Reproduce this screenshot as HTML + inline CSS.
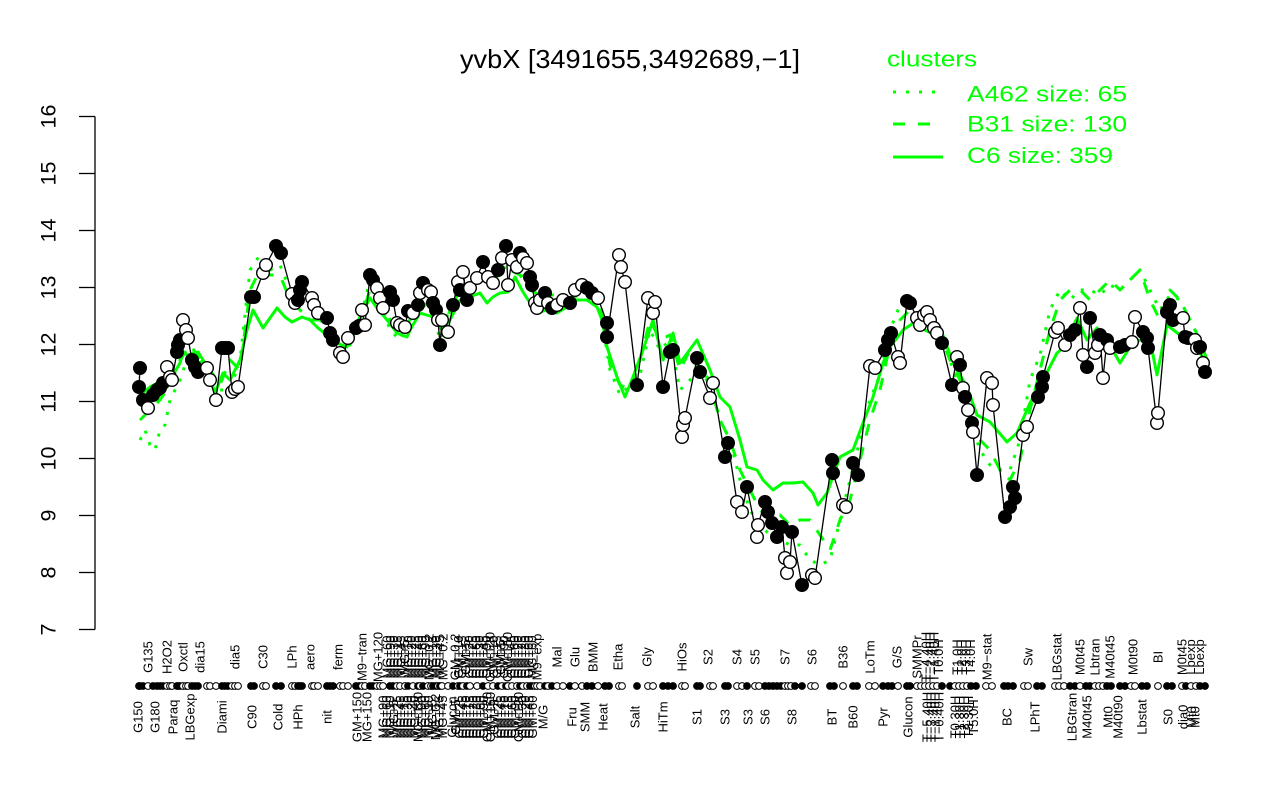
<!DOCTYPE html>
<html><head><meta charset="utf-8"><style>
html,body{margin:0;padding:0;background:#fff}
svg{display:block}
.f{fill:#000}.o{fill:#fff}
</style></head><body>
<svg width="1280" height="800" viewBox="0 0 1280 800" xmlns="http://www.w3.org/2000/svg" font-family="'Liberation Sans', Arial, sans-serif">
<rect width="1280" height="800" fill="#fff"/>
<text x="460" y="68" font-size="26" textLength="340" lengthAdjust="spacingAndGlyphs">yvbX [3491655,3492689,−1]</text>
<g fill="#00ff00" font-size="22">
<text x="887" y="66.5" textLength="90" lengthAdjust="spacingAndGlyphs">clusters</text>
<text x="967" y="101.5" textLength="160" lengthAdjust="spacingAndGlyphs">A462 size: 65</text>
<text x="967" y="131.5" textLength="160" lengthAdjust="spacingAndGlyphs">B31 size: 130</text>
<text x="967" y="163" textLength="146" lengthAdjust="spacingAndGlyphs">C6 size: 359</text>
</g>
<g stroke="#00ff00" stroke-width="3" fill="none">
<line x1="893" y1="92" x2="943" y2="92" stroke-dasharray="3,10"/>
<line x1="893" y1="124" x2="943" y2="124" stroke-dasharray="12,13"/>
<line x1="893" y1="157" x2="943" y2="157"/>
</g>
<g stroke="#000" stroke-width="1.3">
<line x1="95" y1="116.5" x2="95" y2="629.5"/>
<line x1="79" y1="116.5" x2="95" y2="116.5"/>
<line x1="79" y1="173.5" x2="95" y2="173.5"/>
<line x1="79" y1="230.5" x2="95" y2="230.5"/>
<line x1="79" y1="287.5" x2="95" y2="287.5"/>
<line x1="79" y1="344.5" x2="95" y2="344.5"/>
<line x1="79" y1="401.5" x2="95" y2="401.5"/>
<line x1="79" y1="458.5" x2="95" y2="458.5"/>
<line x1="79" y1="515.5" x2="95" y2="515.5"/>
<line x1="79" y1="572.5" x2="95" y2="572.5"/>
<line x1="79" y1="629.5" x2="95" y2="629.5"/>
</g>
<g font-size="21.5" text-anchor="middle" fill="#000">
<text transform="translate(55.5,116.5) rotate(-90)">16</text>
<text transform="translate(55.5,173.5) rotate(-90)">15</text>
<text transform="translate(55.5,230.5) rotate(-90)">14</text>
<text transform="translate(55.5,287.5) rotate(-90)">13</text>
<text transform="translate(55.5,344.5) rotate(-90)">12</text>
<text transform="translate(55.5,401.5) rotate(-90)">11</text>
<text transform="translate(55.5,458.5) rotate(-90)">10</text>
<text transform="translate(55.5,515.5) rotate(-90)">9</text>
<text transform="translate(55.5,572.5) rotate(-90)">8</text>
<text transform="translate(55.5,629.5) rotate(-90)">7</text>
</g>
<g fill="none" stroke="#00ff00" stroke-width="3" stroke-linejoin="round">
<polyline stroke-dasharray="3,9" points="140,440 145,430 150,445 155,450 160,430 165,425 170,400 180,380 190,350 200,360 210,380 220,390 230,390 240,360 250,270 260,255 270,270 280,265 290,290 300,310 310,320 320,320 330,330 340,340 350,345 360,320 370,280 380,300 390,330 400,340 410,320 420,300 430,300 440,340 450,310 460,280 470,285 480,280 490,275 500,270 510,265 520,270 530,285 540,290 550,295 560,295 570,300 580,285 590,290 600,300 605,340 610,370 620,395 640,375 650,330 660,350 670,340 680,390 690,380 700,370 710,380 720,420 730,440 740,480 750,510 760,525 770,535 780,540 790,545 800,545 810,560 820,565 830,560 840,520 850,480 860,440 870,400 880,375 890,330 900,305 910,300 920,310 930,320 940,330 950,360 960,390 970,420 980,450 990,465 1000,470 1010,470 1020,440 1030,380 1040,355 1050,310 1060,290 1070,300 1080,290 1090,290 1100,295 1110,285 1120,290 1130,280 1140,270 1150,290 1160,310 1170,295 1180,300 1190,320 1200,340 1207,360"/>
<polyline stroke-dasharray="12,12" points="140,420 150,410 160,400 170,385 180,360 190,345 200,358 210,370 220,385 230,360 240,370 250,290 260,270 270,275 280,275 290,300 300,310 310,320 320,320 330,330 340,340 350,345 360,320 370,290 380,300 390,320 400,330 410,320 420,310 430,300 440,330 450,310 460,290 470,285 480,280 490,280 500,275 510,270 520,275 530,290 540,295 550,300 560,300 570,305 580,290 590,295 600,300 605,330 610,365 620,385 630,390 640,360 650,320 660,340 670,335 680,370 690,350 700,370 710,385 720,420 730,440 740,470 750,490 760,510 770,520 780,515 790,525 800,520 810,520 820,535 830,550 840,520 850,500 860,460 870,420 880,390 890,345 900,320 910,310 920,315 930,330 940,335 950,360 960,380 970,420 980,440 990,450 1000,470 1010,480 1020,460 1030,410 1040,370 1050,330 1060,300 1070,290 1080,290 1090,300 1100,290 1110,280 1120,290 1130,280 1140,270 1150,300 1160,320 1170,290 1180,300 1190,320 1200,340 1207,360"/>
<polyline points="138,397 150,387 163,380 173,375 180,363 183,353 188,355 198,352 205,363 215,393 223,373 230,380 240,360 247,330 253,310 263,328 277,308 285,317 292,322 302,317 310,320 317,327 330,338 337,343 347,347 353,330 360,317 370,298 377,308 387,320 397,333 407,337 410,330 420,313 433,317 442,330 450,320 460,300 470,297 480,293 487,303 493,297 500,293 508,292 515,277 523,292 530,303 537,313 547,310 557,313 567,307 577,300 587,300 597,307 602,320 607,347 617,377 625,397 633,377 643,350 653,320 663,360 673,333 680,363 697,340 710,370 720,397 730,407 740,440 747,467 757,470 763,480 773,490 783,483 793,483 803,482 813,493 818,505 827,493 840,457 853,450 863,423 873,397 883,363 890,347 903,330 915,322 925,330 935,335 940,327 947,347 957,370 967,387 977,415 990,422 1007,442 1017,433 1030,403 1043,380 1057,353 1063,348 1077,318 1087,340 1097,328 1107,340 1120,363 1130,347 1140,340 1150,340 1157,375 1167,325 1180,335 1193,343 1207,363"/>
</g>
<polyline fill="none" stroke="#000" stroke-width="1.3" points="140,368 139,387 143,400 148,408 153,395 157,390 160,388 163,383 167,367 170,377 172,380 177,352 178,345 180,340 183,320 186,330 188,338 192,360 195,367 198,372 207,368 210,380 216,400 222,348 225,348 228,348 232,392 235,389 238,387 251,297 254,297 263,273 266,265 276,246 281,253 292,294 295,303 298,300 300,290 302,282 312,298 314,305 318,313 327,318 330,333 333,340 340,353 343,357 348,338 356,328 359,326 362,310 365,325 370,275 373,280 377,288 380,298 383,308 390,292 393,300 397,323 400,325 405,327 408,311 413,313 418,305 420,293 423,283 428,290 431,292 433,303 436,310 438,320 440,345 442,320 448,332 453,305 458,282 460,290 463,272 467,300 470,288 477,278 483,262 488,277 493,283 498,270 502,258 506,246 508,285 512,260 517,267 520,253 523,258 527,263 530,277 532,285 535,303 537,308 540,300 545,293 548,303 552,308 557,305 563,300 570,303 575,290 582,285 587,288 592,293 598,298 607,323 607,337 619,255 621,267 625,282 637,385 648,298 653,313 655,302 663,387 670,352 673,350 682,437 683,425 685,418 697,358 700,372 710,398 713,383 725,457 728,443 737,502 742,512 747,487 757,537 758,525 765,502 768,512 772,523 777,537 782,527 785,558 787,573 790,562 792,532 802,585 812,575 815,578 832,460 833,473 843,505 846,507 853,463 858,475 870,366 875,368 885,350 888,340 891,333 898,357 900,363 907,301 910,303 917,318 920,325 924,315 927,312 930,320 934,328 937,333 942,343 952,385 957,357 960,365 963,388 965,397 968,410 972,423 973,432 977,475 987,378 992,383 993,405 1005,517 1010,507 1013,487 1015,498 1023,435 1027,427 1038,397 1042,387 1043,377 1055,332 1058,328 1065,345 1070,335 1075,330 1080,308 1083,355 1087,367 1090,318 1095,353 1098,345 1100,335 1103,378 1107,340 1110,348 1120,347 1125,345 1132,342 1135,317 1143,332 1147,338 1148,348 1157,423 1158,413 1167,312 1170,305 1173,320 1183,318 1185,337 1188,338 1195,340 1197,348 1200,347 1203,363 1205,372"/>
<g stroke="#000" stroke-width="1.4">
<circle class="f" cx="140" cy="368" r="6.3"/><circle class="f" cx="139" cy="387" r="6.3"/><circle class="f" cx="143" cy="400" r="6.3"/><circle class="o" cx="148" cy="408" r="6.3"/><circle class="f" cx="153" cy="395" r="6.3"/><circle class="f" cx="157" cy="390" r="6.3"/><circle class="f" cx="160" cy="388" r="6.3"/><circle class="f" cx="163" cy="383" r="6.3"/><circle class="o" cx="167" cy="367" r="6.3"/><circle class="o" cx="170" cy="377" r="6.3"/><circle class="o" cx="172" cy="380" r="6.3"/><circle class="f" cx="177" cy="352" r="6.3"/><circle class="f" cx="178" cy="345" r="6.3"/><circle class="f" cx="180" cy="340" r="6.3"/><circle class="o" cx="183" cy="320" r="6.3"/><circle class="o" cx="186" cy="330" r="6.3"/><circle class="o" cx="188" cy="338" r="6.3"/><circle class="f" cx="192" cy="360" r="6.3"/><circle class="f" cx="195" cy="367" r="6.3"/><circle class="f" cx="198" cy="372" r="6.3"/><circle class="o" cx="207" cy="368" r="6.3"/><circle class="o" cx="210" cy="380" r="6.3"/><circle class="o" cx="216" cy="400" r="6.3"/><circle class="f" cx="222" cy="348" r="6.3"/><circle class="f" cx="225" cy="348" r="6.3"/><circle class="f" cx="228" cy="348" r="6.3"/><circle class="o" cx="232" cy="392" r="6.3"/><circle class="o" cx="235" cy="389" r="6.3"/><circle class="o" cx="238" cy="387" r="6.3"/><circle class="f" cx="251" cy="297" r="6.3"/><circle class="f" cx="254" cy="297" r="6.3"/><circle class="o" cx="263" cy="273" r="6.3"/><circle class="o" cx="266" cy="265" r="6.3"/><circle class="f" cx="276" cy="246" r="6.3"/><circle class="f" cx="281" cy="253" r="6.3"/><circle class="o" cx="292" cy="294" r="6.3"/><circle class="o" cx="295" cy="303" r="6.3"/><circle class="f" cx="298" cy="300" r="6.3"/><circle class="f" cx="300" cy="290" r="6.3"/><circle class="f" cx="302" cy="282" r="6.3"/><circle class="o" cx="312" cy="298" r="6.3"/><circle class="o" cx="314" cy="305" r="6.3"/><circle class="o" cx="318" cy="313" r="6.3"/><circle class="f" cx="327" cy="318" r="6.3"/><circle class="f" cx="330" cy="333" r="6.3"/><circle class="f" cx="333" cy="340" r="6.3"/><circle class="o" cx="340" cy="353" r="6.3"/><circle class="o" cx="343" cy="357" r="6.3"/><circle class="o" cx="348" cy="338" r="6.3"/><circle class="f" cx="356" cy="328" r="6.3"/><circle class="f" cx="359" cy="326" r="6.3"/><circle class="o" cx="362" cy="310" r="6.3"/><circle class="o" cx="365" cy="325" r="6.3"/><circle class="f" cx="370" cy="275" r="6.3"/><circle class="f" cx="373" cy="280" r="6.3"/><circle class="o" cx="377" cy="288" r="6.3"/><circle class="o" cx="380" cy="298" r="6.3"/><circle class="o" cx="383" cy="308" r="6.3"/><circle class="f" cx="390" cy="292" r="6.3"/><circle class="f" cx="393" cy="300" r="6.3"/><circle class="o" cx="397" cy="323" r="6.3"/><circle class="o" cx="400" cy="325" r="6.3"/><circle class="o" cx="405" cy="327" r="6.3"/><circle class="f" cx="408" cy="311" r="6.3"/><circle class="o" cx="413" cy="313" r="6.3"/><circle class="f" cx="418" cy="305" r="6.3"/><circle class="o" cx="420" cy="293" r="6.3"/><circle class="f" cx="423" cy="283" r="6.3"/><circle class="o" cx="428" cy="290" r="6.3"/><circle class="o" cx="431" cy="292" r="6.3"/><circle class="f" cx="433" cy="303" r="6.3"/><circle class="f" cx="436" cy="310" r="6.3"/><circle class="o" cx="438" cy="320" r="6.3"/><circle class="f" cx="440" cy="345" r="6.3"/><circle class="o" cx="442" cy="320" r="6.3"/><circle class="o" cx="448" cy="332" r="6.3"/><circle class="f" cx="453" cy="305" r="6.3"/><circle class="o" cx="458" cy="282" r="6.3"/><circle class="f" cx="460" cy="290" r="6.3"/><circle class="o" cx="463" cy="272" r="6.3"/><circle class="f" cx="467" cy="300" r="6.3"/><circle class="o" cx="470" cy="288" r="6.3"/><circle class="o" cx="477" cy="278" r="6.3"/><circle class="f" cx="483" cy="262" r="6.3"/><circle class="o" cx="488" cy="277" r="6.3"/><circle class="o" cx="493" cy="283" r="6.3"/><circle class="f" cx="498" cy="270" r="6.3"/><circle class="o" cx="502" cy="258" r="6.3"/><circle class="f" cx="506" cy="246" r="6.3"/><circle class="o" cx="508" cy="285" r="6.3"/><circle class="o" cx="512" cy="260" r="6.3"/><circle class="o" cx="517" cy="267" r="6.3"/><circle class="f" cx="520" cy="253" r="6.3"/><circle class="o" cx="523" cy="258" r="6.3"/><circle class="o" cx="527" cy="263" r="6.3"/><circle class="f" cx="530" cy="277" r="6.3"/><circle class="f" cx="532" cy="285" r="6.3"/><circle class="o" cx="535" cy="303" r="6.3"/><circle class="o" cx="537" cy="308" r="6.3"/><circle class="o" cx="540" cy="300" r="6.3"/><circle class="f" cx="545" cy="293" r="6.3"/><circle class="o" cx="548" cy="303" r="6.3"/><circle class="f" cx="552" cy="308" r="6.3"/><circle class="o" cx="557" cy="305" r="6.3"/><circle class="o" cx="563" cy="300" r="6.3"/><circle class="f" cx="570" cy="303" r="6.3"/><circle class="o" cx="575" cy="290" r="6.3"/><circle class="o" cx="582" cy="285" r="6.3"/><circle class="f" cx="587" cy="288" r="6.3"/><circle class="f" cx="592" cy="293" r="6.3"/><circle class="o" cx="598" cy="298" r="6.3"/><circle class="f" cx="607" cy="323" r="6.3"/><circle class="f" cx="607" cy="337" r="6.3"/><circle class="o" cx="619" cy="255" r="6.3"/><circle class="o" cx="621" cy="267" r="6.3"/><circle class="o" cx="625" cy="282" r="6.3"/><circle class="f" cx="637" cy="385" r="6.3"/><circle class="o" cx="648" cy="298" r="6.3"/><circle class="o" cx="653" cy="313" r="6.3"/><circle class="o" cx="655" cy="302" r="6.3"/><circle class="f" cx="663" cy="387" r="6.3"/><circle class="f" cx="670" cy="352" r="6.3"/><circle class="f" cx="673" cy="350" r="6.3"/><circle class="o" cx="682" cy="437" r="6.3"/><circle class="o" cx="683" cy="425" r="6.3"/><circle class="o" cx="685" cy="418" r="6.3"/><circle class="f" cx="697" cy="358" r="6.3"/><circle class="f" cx="700" cy="372" r="6.3"/><circle class="o" cx="710" cy="398" r="6.3"/><circle class="o" cx="713" cy="383" r="6.3"/><circle class="f" cx="725" cy="457" r="6.3"/><circle class="f" cx="728" cy="443" r="6.3"/><circle class="o" cx="737" cy="502" r="6.3"/><circle class="o" cx="742" cy="512" r="6.3"/><circle class="f" cx="747" cy="487" r="6.3"/><circle class="o" cx="757" cy="537" r="6.3"/><circle class="o" cx="758" cy="525" r="6.3"/><circle class="f" cx="765" cy="502" r="6.3"/><circle class="f" cx="768" cy="512" r="6.3"/><circle class="f" cx="772" cy="523" r="6.3"/><circle class="f" cx="777" cy="537" r="6.3"/><circle class="f" cx="782" cy="527" r="6.3"/><circle class="o" cx="785" cy="558" r="6.3"/><circle class="o" cx="787" cy="573" r="6.3"/><circle class="o" cx="790" cy="562" r="6.3"/><circle class="f" cx="792" cy="532" r="6.3"/><circle class="f" cx="802" cy="585" r="6.3"/><circle class="o" cx="812" cy="575" r="6.3"/><circle class="o" cx="815" cy="578" r="6.3"/><circle class="f" cx="832" cy="460" r="6.3"/><circle class="f" cx="833" cy="473" r="6.3"/><circle class="o" cx="843" cy="505" r="6.3"/><circle class="o" cx="846" cy="507" r="6.3"/><circle class="f" cx="853" cy="463" r="6.3"/><circle class="f" cx="858" cy="475" r="6.3"/><circle class="o" cx="870" cy="366" r="6.3"/><circle class="o" cx="875" cy="368" r="6.3"/><circle class="f" cx="885" cy="350" r="6.3"/><circle class="f" cx="888" cy="340" r="6.3"/><circle class="f" cx="891" cy="333" r="6.3"/><circle class="o" cx="898" cy="357" r="6.3"/><circle class="o" cx="900" cy="363" r="6.3"/><circle class="f" cx="907" cy="301" r="6.3"/><circle class="f" cx="910" cy="303" r="6.3"/><circle class="o" cx="917" cy="318" r="6.3"/><circle class="o" cx="920" cy="325" r="6.3"/><circle class="o" cx="924" cy="315" r="6.3"/><circle class="o" cx="927" cy="312" r="6.3"/><circle class="o" cx="930" cy="320" r="6.3"/><circle class="o" cx="934" cy="328" r="6.3"/><circle class="o" cx="937" cy="333" r="6.3"/><circle class="f" cx="942" cy="343" r="6.3"/><circle class="f" cx="952" cy="385" r="6.3"/><circle class="o" cx="957" cy="357" r="6.3"/><circle class="f" cx="960" cy="365" r="6.3"/><circle class="o" cx="963" cy="388" r="6.3"/><circle class="f" cx="965" cy="397" r="6.3"/><circle class="o" cx="968" cy="410" r="6.3"/><circle class="f" cx="972" cy="423" r="6.3"/><circle class="o" cx="973" cy="432" r="6.3"/><circle class="f" cx="977" cy="475" r="6.3"/><circle class="o" cx="987" cy="378" r="6.3"/><circle class="o" cx="992" cy="383" r="6.3"/><circle class="o" cx="993" cy="405" r="6.3"/><circle class="f" cx="1005" cy="517" r="6.3"/><circle class="f" cx="1010" cy="507" r="6.3"/><circle class="f" cx="1013" cy="487" r="6.3"/><circle class="f" cx="1015" cy="498" r="6.3"/><circle class="o" cx="1023" cy="435" r="6.3"/><circle class="o" cx="1027" cy="427" r="6.3"/><circle class="f" cx="1038" cy="397" r="6.3"/><circle class="f" cx="1042" cy="387" r="6.3"/><circle class="f" cx="1043" cy="377" r="6.3"/><circle class="o" cx="1055" cy="332" r="6.3"/><circle class="o" cx="1058" cy="328" r="6.3"/><circle class="o" cx="1065" cy="345" r="6.3"/><circle class="f" cx="1070" cy="335" r="6.3"/><circle class="f" cx="1075" cy="330" r="6.3"/><circle class="o" cx="1080" cy="308" r="6.3"/><circle class="o" cx="1083" cy="355" r="6.3"/><circle class="f" cx="1087" cy="367" r="6.3"/><circle class="f" cx="1090" cy="318" r="6.3"/><circle class="o" cx="1095" cy="353" r="6.3"/><circle class="o" cx="1098" cy="345" r="6.3"/><circle class="f" cx="1100" cy="335" r="6.3"/><circle class="o" cx="1103" cy="378" r="6.3"/><circle class="f" cx="1107" cy="340" r="6.3"/><circle class="o" cx="1110" cy="348" r="6.3"/><circle class="f" cx="1120" cy="347" r="6.3"/><circle class="f" cx="1125" cy="345" r="6.3"/><circle class="o" cx="1132" cy="342" r="6.3"/><circle class="o" cx="1135" cy="317" r="6.3"/><circle class="f" cx="1143" cy="332" r="6.3"/><circle class="f" cx="1147" cy="338" r="6.3"/><circle class="f" cx="1148" cy="348" r="6.3"/><circle class="o" cx="1157" cy="423" r="6.3"/><circle class="o" cx="1158" cy="413" r="6.3"/><circle class="f" cx="1167" cy="312" r="6.3"/><circle class="f" cx="1170" cy="305" r="6.3"/><circle class="f" cx="1173" cy="320" r="6.3"/><circle class="o" cx="1183" cy="318" r="6.3"/><circle class="f" cx="1185" cy="337" r="6.3"/><circle class="f" cx="1188" cy="338" r="6.3"/><circle class="o" cx="1195" cy="340" r="6.3"/><circle class="o" cx="1197" cy="348" r="6.3"/><circle class="f" cx="1200" cy="347" r="6.3"/><circle class="o" cx="1203" cy="363" r="6.3"/><circle class="f" cx="1205" cy="372" r="6.3"/>
</g>
<g stroke="#000" stroke-width="1">
<circle class="f" cx="140" cy="686" r="3.4"/><circle class="f" cx="139" cy="686" r="3.4"/><circle class="f" cx="143" cy="686" r="3.4"/><circle class="o" cx="148" cy="686" r="3.4"/><circle class="f" cx="153" cy="686" r="3.4"/><circle class="f" cx="157" cy="686" r="3.4"/><circle class="f" cx="160" cy="686" r="3.4"/><circle class="f" cx="163" cy="686" r="3.4"/><circle class="o" cx="167" cy="686" r="3.4"/><circle class="o" cx="170" cy="686" r="3.4"/><circle class="o" cx="172" cy="686" r="3.4"/><circle class="f" cx="177" cy="686" r="3.4"/><circle class="f" cx="178" cy="686" r="3.4"/><circle class="f" cx="180" cy="686" r="3.4"/><circle class="o" cx="183" cy="686" r="3.4"/><circle class="o" cx="186" cy="686" r="3.4"/><circle class="o" cx="188" cy="686" r="3.4"/><circle class="f" cx="192" cy="686" r="3.4"/><circle class="f" cx="195" cy="686" r="3.4"/><circle class="f" cx="198" cy="686" r="3.4"/><circle class="o" cx="207" cy="686" r="3.4"/><circle class="o" cx="210" cy="686" r="3.4"/><circle class="o" cx="216" cy="686" r="3.4"/><circle class="f" cx="222" cy="686" r="3.4"/><circle class="f" cx="225" cy="686" r="3.4"/><circle class="f" cx="228" cy="686" r="3.4"/><circle class="o" cx="232" cy="686" r="3.4"/><circle class="o" cx="235" cy="686" r="3.4"/><circle class="o" cx="238" cy="686" r="3.4"/><circle class="f" cx="251" cy="686" r="3.4"/><circle class="f" cx="254" cy="686" r="3.4"/><circle class="o" cx="263" cy="686" r="3.4"/><circle class="o" cx="266" cy="686" r="3.4"/><circle class="f" cx="276" cy="686" r="3.4"/><circle class="f" cx="281" cy="686" r="3.4"/><circle class="o" cx="292" cy="686" r="3.4"/><circle class="o" cx="295" cy="686" r="3.4"/><circle class="f" cx="298" cy="686" r="3.4"/><circle class="f" cx="300" cy="686" r="3.4"/><circle class="f" cx="302" cy="686" r="3.4"/><circle class="o" cx="312" cy="686" r="3.4"/><circle class="o" cx="314" cy="686" r="3.4"/><circle class="o" cx="318" cy="686" r="3.4"/><circle class="f" cx="327" cy="686" r="3.4"/><circle class="f" cx="330" cy="686" r="3.4"/><circle class="f" cx="333" cy="686" r="3.4"/><circle class="o" cx="340" cy="686" r="3.4"/><circle class="o" cx="343" cy="686" r="3.4"/><circle class="o" cx="348" cy="686" r="3.4"/><circle class="f" cx="356" cy="686" r="3.4"/><circle class="f" cx="359" cy="686" r="3.4"/><circle class="o" cx="362" cy="686" r="3.4"/><circle class="o" cx="365" cy="686" r="3.4"/><circle class="f" cx="370" cy="686" r="3.4"/><circle class="f" cx="373" cy="686" r="3.4"/><circle class="o" cx="377" cy="686" r="3.4"/><circle class="o" cx="380" cy="686" r="3.4"/><circle class="o" cx="383" cy="686" r="3.4"/><circle class="f" cx="390" cy="686" r="3.4"/><circle class="f" cx="393" cy="686" r="3.4"/><circle class="o" cx="397" cy="686" r="3.4"/><circle class="o" cx="400" cy="686" r="3.4"/><circle class="o" cx="405" cy="686" r="3.4"/><circle class="f" cx="408" cy="686" r="3.4"/><circle class="o" cx="413" cy="686" r="3.4"/><circle class="f" cx="418" cy="686" r="3.4"/><circle class="o" cx="420" cy="686" r="3.4"/><circle class="f" cx="423" cy="686" r="3.4"/><circle class="o" cx="428" cy="686" r="3.4"/><circle class="o" cx="431" cy="686" r="3.4"/><circle class="f" cx="433" cy="686" r="3.4"/><circle class="f" cx="436" cy="686" r="3.4"/><circle class="o" cx="438" cy="686" r="3.4"/><circle class="f" cx="440" cy="686" r="3.4"/><circle class="o" cx="442" cy="686" r="3.4"/><circle class="o" cx="448" cy="686" r="3.4"/><circle class="f" cx="453" cy="686" r="3.4"/><circle class="o" cx="458" cy="686" r="3.4"/><circle class="f" cx="460" cy="686" r="3.4"/><circle class="o" cx="463" cy="686" r="3.4"/><circle class="f" cx="467" cy="686" r="3.4"/><circle class="o" cx="470" cy="686" r="3.4"/><circle class="o" cx="477" cy="686" r="3.4"/><circle class="f" cx="483" cy="686" r="3.4"/><circle class="o" cx="488" cy="686" r="3.4"/><circle class="o" cx="493" cy="686" r="3.4"/><circle class="f" cx="498" cy="686" r="3.4"/><circle class="o" cx="502" cy="686" r="3.4"/><circle class="f" cx="506" cy="686" r="3.4"/><circle class="o" cx="508" cy="686" r="3.4"/><circle class="o" cx="512" cy="686" r="3.4"/><circle class="o" cx="517" cy="686" r="3.4"/><circle class="f" cx="520" cy="686" r="3.4"/><circle class="o" cx="523" cy="686" r="3.4"/><circle class="o" cx="527" cy="686" r="3.4"/><circle class="f" cx="530" cy="686" r="3.4"/><circle class="f" cx="532" cy="686" r="3.4"/><circle class="o" cx="535" cy="686" r="3.4"/><circle class="o" cx="537" cy="686" r="3.4"/><circle class="o" cx="540" cy="686" r="3.4"/><circle class="f" cx="545" cy="686" r="3.4"/><circle class="o" cx="548" cy="686" r="3.4"/><circle class="f" cx="552" cy="686" r="3.4"/><circle class="o" cx="557" cy="686" r="3.4"/><circle class="o" cx="563" cy="686" r="3.4"/><circle class="f" cx="570" cy="686" r="3.4"/><circle class="o" cx="575" cy="686" r="3.4"/><circle class="o" cx="582" cy="686" r="3.4"/><circle class="f" cx="587" cy="686" r="3.4"/><circle class="f" cx="592" cy="686" r="3.4"/><circle class="o" cx="598" cy="686" r="3.4"/><circle class="f" cx="605" cy="686" r="3.4"/><circle class="f" cx="609" cy="686" r="3.4"/><circle class="o" cx="619" cy="686" r="3.4"/><circle class="o" cx="622" cy="686" r="3.4"/><circle class="f" cx="637" cy="686" r="3.4"/><circle class="o" cx="648" cy="686" r="3.4"/><circle class="o" cx="653" cy="686" r="3.4"/><circle class="f" cx="663" cy="686" r="3.4"/><circle class="f" cx="668" cy="686" r="3.4"/><circle class="f" cx="673" cy="686" r="3.4"/><circle class="o" cx="682" cy="686" r="3.4"/><circle class="o" cx="685" cy="686" r="3.4"/><circle class="f" cx="697" cy="686" r="3.4"/><circle class="f" cx="700" cy="686" r="3.4"/><circle class="o" cx="710" cy="686" r="3.4"/><circle class="o" cx="713" cy="686" r="3.4"/><circle class="f" cx="725" cy="686" r="3.4"/><circle class="f" cx="728" cy="686" r="3.4"/><circle class="o" cx="737" cy="686" r="3.4"/><circle class="o" cx="742" cy="686" r="3.4"/><circle class="f" cx="747" cy="686" r="3.4"/><circle class="o" cx="755" cy="686" r="3.4"/><circle class="o" cx="759" cy="686" r="3.4"/><circle class="f" cx="765" cy="686" r="3.4"/><circle class="f" cx="769" cy="686" r="3.4"/><circle class="f" cx="773" cy="686" r="3.4"/><circle class="f" cx="777" cy="686" r="3.4"/><circle class="f" cx="781" cy="686" r="3.4"/><circle class="o" cx="785" cy="686" r="3.4"/><circle class="o" cx="788" cy="686" r="3.4"/><circle class="o" cx="791" cy="686" r="3.4"/><circle class="f" cx="795" cy="686" r="3.4"/><circle class="f" cx="802" cy="686" r="3.4"/><circle class="o" cx="811" cy="686" r="3.4"/><circle class="o" cx="815" cy="686" r="3.4"/><circle class="f" cx="830" cy="686" r="3.4"/><circle class="f" cx="834" cy="686" r="3.4"/><circle class="o" cx="843" cy="686" r="3.4"/><circle class="f" cx="853" cy="686" r="3.4"/><circle class="f" cx="857" cy="686" r="3.4"/><circle class="o" cx="869" cy="686" r="3.4"/><circle class="o" cx="875" cy="686" r="3.4"/><circle class="f" cx="883" cy="686" r="3.4"/><circle class="f" cx="888" cy="686" r="3.4"/><circle class="f" cx="892" cy="686" r="3.4"/><circle class="o" cx="898" cy="686" r="3.4"/><circle class="f" cx="907" cy="686" r="3.4"/><circle class="f" cx="910" cy="686" r="3.4"/><circle class="o" cx="917" cy="686" r="3.4"/><circle class="o" cx="921" cy="686" r="3.4"/><circle class="o" cx="925" cy="686" r="3.4"/><circle class="o" cx="929" cy="686" r="3.4"/><circle class="o" cx="933" cy="686" r="3.4"/><circle class="o" cx="937" cy="686" r="3.4"/><circle class="f" cx="942" cy="686" r="3.4"/><circle class="f" cx="950" cy="686" r="3.4"/><circle class="o" cx="955" cy="686" r="3.4"/><circle class="o" cx="959" cy="686" r="3.4"/><circle class="o" cx="963" cy="686" r="3.4"/><circle class="o" cx="967" cy="686" r="3.4"/><circle class="f" cx="971" cy="686" r="3.4"/><circle class="f" cx="976" cy="686" r="3.4"/><circle class="o" cx="986" cy="686" r="3.4"/><circle class="o" cx="992" cy="686" r="3.4"/><circle class="f" cx="1004" cy="686" r="3.4"/><circle class="f" cx="1008" cy="686" r="3.4"/><circle class="f" cx="1013" cy="686" r="3.4"/><circle class="o" cx="1024" cy="686" r="3.4"/><circle class="o" cx="1028" cy="686" r="3.4"/><circle class="f" cx="1037" cy="686" r="3.4"/><circle class="f" cx="1042" cy="686" r="3.4"/><circle class="o" cx="1055" cy="686" r="3.4"/><circle class="o" cx="1059" cy="686" r="3.4"/><circle class="o" cx="1064" cy="686" r="3.4"/><circle class="f" cx="1070" cy="686" r="3.4"/><circle class="f" cx="1075" cy="686" r="3.4"/><circle class="o" cx="1080" cy="686" r="3.4"/><circle class="f" cx="1086" cy="686" r="3.4"/><circle class="f" cx="1090" cy="686" r="3.4"/><circle class="o" cx="1095" cy="686" r="3.4"/><circle class="o" cx="1099" cy="686" r="3.4"/><circle class="o" cx="1103" cy="686" r="3.4"/><circle class="f" cx="1107" cy="686" r="3.4"/><circle class="f" cx="1111" cy="686" r="3.4"/><circle class="f" cx="1120" cy="686" r="3.4"/><circle class="f" cx="1125" cy="686" r="3.4"/><circle class="o" cx="1131" cy="686" r="3.4"/><circle class="o" cx="1135" cy="686" r="3.4"/><circle class="f" cx="1142" cy="686" r="3.4"/><circle class="f" cx="1147" cy="686" r="3.4"/><circle class="o" cx="1158" cy="686" r="3.4"/><circle class="f" cx="1167" cy="686" r="3.4"/><circle class="f" cx="1172" cy="686" r="3.4"/><circle class="o" cx="1182" cy="686" r="3.4"/><circle class="f" cx="1186" cy="686" r="3.4"/><circle class="o" cx="1191" cy="686" r="3.4"/><circle class="o" cx="1196" cy="686" r="3.4"/><circle class="f" cx="1200" cy="686" r="3.4"/><circle class="f" cx="1205" cy="686" r="3.4"/>
</g>
<g font-size="13" text-anchor="middle" fill="#000">
<text transform="translate(152.5,657) rotate(-90)">G135</text>
<text transform="translate(171.5,657) rotate(-90)">H2O2</text>
<text transform="translate(187.5,657) rotate(-90)">Oxctl</text>
<text transform="translate(204.5,657) rotate(-90)">dia15</text>
<text transform="translate(239.5,657) rotate(-90)">dia5</text>
<text transform="translate(267.5,657) rotate(-90)">C30</text>
<text transform="translate(296.5,657) rotate(-90)">LPh</text>
<text transform="translate(314.5,657) rotate(-90)">aero</text>
<text transform="translate(342.5,657) rotate(-90)">ferm</text>
<text transform="translate(366.5,657) rotate(-90)">M9−tran</text>
<text transform="translate(382.5,657) rotate(-90)">MG+120</text>
<text transform="translate(391.5,657) rotate(-90)">MG+60</text>
<text transform="translate(395,657) rotate(-90)">MG+90</text>
<text transform="translate(398.5,657) rotate(-90)">MG+30</text>
<text transform="translate(402,657) rotate(-90)">MG+15</text>
<text transform="translate(405.5,657) rotate(-90)">MG+45</text>
<text transform="translate(409,657) rotate(-90)">MG+5</text>
<text transform="translate(412.5,657) rotate(-90)">MG+10</text>
<text transform="translate(416,657) rotate(-90)">MG+20</text>
<text transform="translate(419.5,657) rotate(-90)">MG+25</text>
<text transform="translate(423,657) rotate(-90)">MG+40</text>
<text transform="translate(426.5,657) rotate(-90)">MG+60</text>
<text transform="translate(430,657) rotate(-90)">MG+90</text>
<text transform="translate(433.5,657) rotate(-90)">MG−0.2</text>
<text transform="translate(437,657) rotate(-90)">MG+15</text>
<text transform="translate(440.5,657) rotate(-90)">MG+30</text>
<text transform="translate(444,657) rotate(-90)">MG+45</text>
<text transform="translate(447.5,657) rotate(-90)">MG−0.2</text>
<text transform="translate(459.5,657) rotate(-90)">GM−0.2</text>
<text transform="translate(463,657) rotate(-90)">GM+10</text>
<text transform="translate(466.5,657) rotate(-90)">GM+15</text>
<text transform="translate(470,657) rotate(-90)">GM+5</text>
<text transform="translate(473.5,657) rotate(-90)">GM+20</text>
<text transform="translate(477,657) rotate(-90)">GM+25</text>
<text transform="translate(480.5,657) rotate(-90)">GM+60</text>
<text transform="translate(484,657) rotate(-90)">GM+30</text>
<text transform="translate(487.5,657) rotate(-90)">GM+45</text>
<text transform="translate(491,657) rotate(-90)">GM+90</text>
<text transform="translate(494.5,657) rotate(-90)">GM+120</text>
<text transform="translate(498,657) rotate(-90)">GM+10</text>
<text transform="translate(501.5,657) rotate(-90)">GM+15</text>
<text transform="translate(505,657) rotate(-90)">GM+5</text>
<text transform="translate(508.5,657) rotate(-90)">GM+90</text>
<text transform="translate(512,657) rotate(-90)">GM+150</text>
<text transform="translate(515.5,657) rotate(-90)">GM+45</text>
<text transform="translate(519,657) rotate(-90)">GM+60</text>
<text transform="translate(522.5,657) rotate(-90)">GM+20</text>
<text transform="translate(526,657) rotate(-90)">GM+25</text>
<text transform="translate(529.5,657) rotate(-90)">GM+30</text>
<text transform="translate(533,657) rotate(-90)">GM+60</text>
<text transform="translate(536.5,657) rotate(-90)">MG+60</text>
<text transform="translate(541.5,657) rotate(-90)">M9−exp</text>
<text transform="translate(561.5,657) rotate(-90)">Mal</text>
<text transform="translate(579.5,657) rotate(-90)">Glu</text>
<text transform="translate(597.5,657) rotate(-90)">BMM</text>
<text transform="translate(622.5,657) rotate(-90)">Etha</text>
<text transform="translate(651.5,657) rotate(-90)">Gly</text>
<text transform="translate(686.5,657) rotate(-90)">HiOs</text>
<text transform="translate(712.5,657) rotate(-90)">S2</text>
<text transform="translate(741.5,657) rotate(-90)">S4</text>
<text transform="translate(759.5,657) rotate(-90)">S5</text>
<text transform="translate(789.5,657) rotate(-90)">S7</text>
<text transform="translate(816.5,657) rotate(-90)">S6</text>
<text transform="translate(847.5,657) rotate(-90)">B36</text>
<text transform="translate(874.5,657) rotate(-90)">LoTm</text>
<text transform="translate(901.5,657) rotate(-90)">G/S</text>
<text transform="translate(921.5,657) rotate(-90)">SMMPr</text>
<text transform="translate(930.5,657) rotate(-90)">T−4.40H</text>
<text transform="translate(934.5,657) rotate(-90)">T−2.40H</text>
<text transform="translate(938.5,657) rotate(-90)">T−1.40H</text>
<text transform="translate(943,657) rotate(-90)">T0.0H</text>
<text transform="translate(961.5,657) rotate(-90)">T1.0H</text>
<text transform="translate(966,657) rotate(-90)">T2.0H</text>
<text transform="translate(970.5,657) rotate(-90)">T3.0H</text>
<text transform="translate(975,657) rotate(-90)">T4.0H</text>
<text transform="translate(991.5,657) rotate(-90)">M9−stat</text>
<text transform="translate(1032.5,657) rotate(-90)">Sw</text>
<text transform="translate(1061.5,657) rotate(-90)">LBGstat</text>
<text transform="translate(1084.5,657) rotate(-90)">M0t45</text>
<text transform="translate(1099.5,657) rotate(-90)">Lbtran</text>
<text transform="translate(1114.5,657) rotate(-90)">M40t45</text>
<text transform="translate(1137.5,657) rotate(-90)">M0t90</text>
<text transform="translate(1162.5,657) rotate(-90)">BI</text>
<text transform="translate(1186.5,657) rotate(-90)">M0t45</text>
<text transform="translate(1195,657) rotate(-90)">Lbexp</text>
<text transform="translate(1204,657) rotate(-90)">Lbexp</text>

<text transform="translate(142.5,717) rotate(-90)">G150</text>
<text transform="translate(159.5,717) rotate(-90)">G180</text>
<text transform="translate(177.5,717) rotate(-90)">Paraq</text>
<text transform="translate(194.5,717) rotate(-90)">LBGexp</text>
<text transform="translate(226.5,717) rotate(-90)">Diami</text>
<text transform="translate(256.5,717) rotate(-90)">C90</text>
<text transform="translate(282.5,717) rotate(-90)">Cold</text>
<text transform="translate(302.5,717) rotate(-90)">HPh</text>
<text transform="translate(331.5,717) rotate(-90)">nit</text>
<text transform="translate(361.5,717) rotate(-90)">GM+150</text>
<text transform="translate(371.5,717) rotate(-90)">MG+150</text>
<text transform="translate(387.5,717) rotate(-90)">MG+90</text>
<text transform="translate(391,717) rotate(-90)">MG+60</text>
<text transform="translate(394.5,717) rotate(-90)">MG+10</text>
<text transform="translate(398,717) rotate(-90)">MG+5</text>
<text transform="translate(401.5,717) rotate(-90)">MG+25</text>
<text transform="translate(405,717) rotate(-90)">MG+45</text>
<text transform="translate(408.5,717) rotate(-90)">MG+15</text>
<text transform="translate(412,717) rotate(-90)">MG+30</text>
<text transform="translate(415.5,717) rotate(-90)">MG+20</text>
<text transform="translate(419,717) rotate(-90)">MG+40</text>
<text transform="translate(422.5,717) rotate(-90)">MG+120</text>
<text transform="translate(426,717) rotate(-90)">MG+90</text>
<text transform="translate(429.5,717) rotate(-90)">MG+60</text>
<text transform="translate(433,717) rotate(-90)">MG+10</text>
<text transform="translate(436.5,717) rotate(-90)">MG+5</text>
<text transform="translate(440,717) rotate(-90)">MG−0.2</text>
<text transform="translate(443.5,717) rotate(-90)">MG+25</text>
<text transform="translate(447,717) rotate(-90)">MG+45</text>
<text transform="translate(456.5,717) rotate(-90)">Glucon</text>
<text transform="translate(460,717) rotate(-90)">GM+5</text>
<text transform="translate(463.5,717) rotate(-90)">GM+25</text>
<text transform="translate(467,717) rotate(-90)">GM+45</text>
<text transform="translate(470.5,717) rotate(-90)">GM+10</text>
<text transform="translate(474,717) rotate(-90)">GM+15</text>
<text transform="translate(477.5,717) rotate(-90)">GM+20</text>
<text transform="translate(481,717) rotate(-90)">GM+30</text>
<text transform="translate(484.5,717) rotate(-90)">GM+60</text>
<text transform="translate(488,717) rotate(-90)">GM+90</text>
<text transform="translate(491.5,717) rotate(-90)">GM+120</text>
<text transform="translate(495,717) rotate(-90)">GM+150</text>
<text transform="translate(498.5,717) rotate(-90)">GM+5</text>
<text transform="translate(502,717) rotate(-90)">GM+25</text>
<text transform="translate(505.5,717) rotate(-90)">GM+45</text>
<text transform="translate(509,717) rotate(-90)">GM+10</text>
<text transform="translate(512.5,717) rotate(-90)">GM+15</text>
<text transform="translate(516,717) rotate(-90)">GM+60</text>
<text transform="translate(519.5,717) rotate(-90)">GM+90</text>
<text transform="translate(523,717) rotate(-90)">GM+120</text>
<text transform="translate(526.5,717) rotate(-90)">GM+30</text>
<text transform="translate(530,717) rotate(-90)">GM+20</text>
<text transform="translate(533.5,717) rotate(-90)">GM+45</text>
<text transform="translate(537,717) rotate(-90)">GM+60</text>
<text transform="translate(547.5,717) rotate(-90)">M/G</text>
<text transform="translate(576.5,717) rotate(-90)">Fru</text>
<text transform="translate(589.5,717) rotate(-90)">SMM</text>
<text transform="translate(607.5,717) rotate(-90)">Heat</text>
<text transform="translate(639.5,717) rotate(-90)">Salt</text>
<text transform="translate(667.5,717) rotate(-90)">HiTm</text>
<text transform="translate(701.5,717) rotate(-90)">S1</text>
<text transform="translate(729.5,717) rotate(-90)">S3</text>
<text transform="translate(752.5,717) rotate(-90)">S3</text>
<text transform="translate(769.5,717) rotate(-90)">S6</text>
<text transform="translate(796.5,717) rotate(-90)">S8</text>
<text transform="translate(836.5,717) rotate(-90)">BT</text>
<text transform="translate(857.5,717) rotate(-90)">B60</text>
<text transform="translate(887.5,717) rotate(-90)">Pyr</text>
<text transform="translate(912.5,717) rotate(-90)">Glucon</text>
<text transform="translate(931.5,717) rotate(-90)">T−5.40H</text>
<text transform="translate(935.5,717) rotate(-90)">T−3.40H</text>
<text transform="translate(939.5,717) rotate(-90)">T−1.40H</text>
<text transform="translate(943.5,717) rotate(-90)">T−0.40H</text>
<text transform="translate(959.5,717) rotate(-90)">T0.30H</text>
<text transform="translate(964,717) rotate(-90)">T1.30H</text>
<text transform="translate(968.5,717) rotate(-90)">T2.30H</text>
<text transform="translate(973,717) rotate(-90)">T3.30H</text>
<text transform="translate(978,717) rotate(-90)">T5.0H</text>
<text transform="translate(1011.5,717) rotate(-90)">BC</text>
<text transform="translate(1039.5,717) rotate(-90)">LPhT</text>
<text transform="translate(1076.5,717) rotate(-90)">LBGtran</text>
<text transform="translate(1091.5,717) rotate(-90)">M40t45</text>
<text transform="translate(1112.5,717) rotate(-90)">Mt0</text>
<text transform="translate(1122.5,717) rotate(-90)">M40t90</text>
<text transform="translate(1146.5,717) rotate(-90)">Lbstat</text>
<text transform="translate(1172.5,717) rotate(-90)">S0</text>
<text transform="translate(1187.5,717) rotate(-90)">dia0</text>
<text transform="translate(1196,717) rotate(-90)">Mt0</text>
<text transform="translate(1199.5,717) rotate(-90)">Mt0</text>
</g>
</svg>
</body></html>
